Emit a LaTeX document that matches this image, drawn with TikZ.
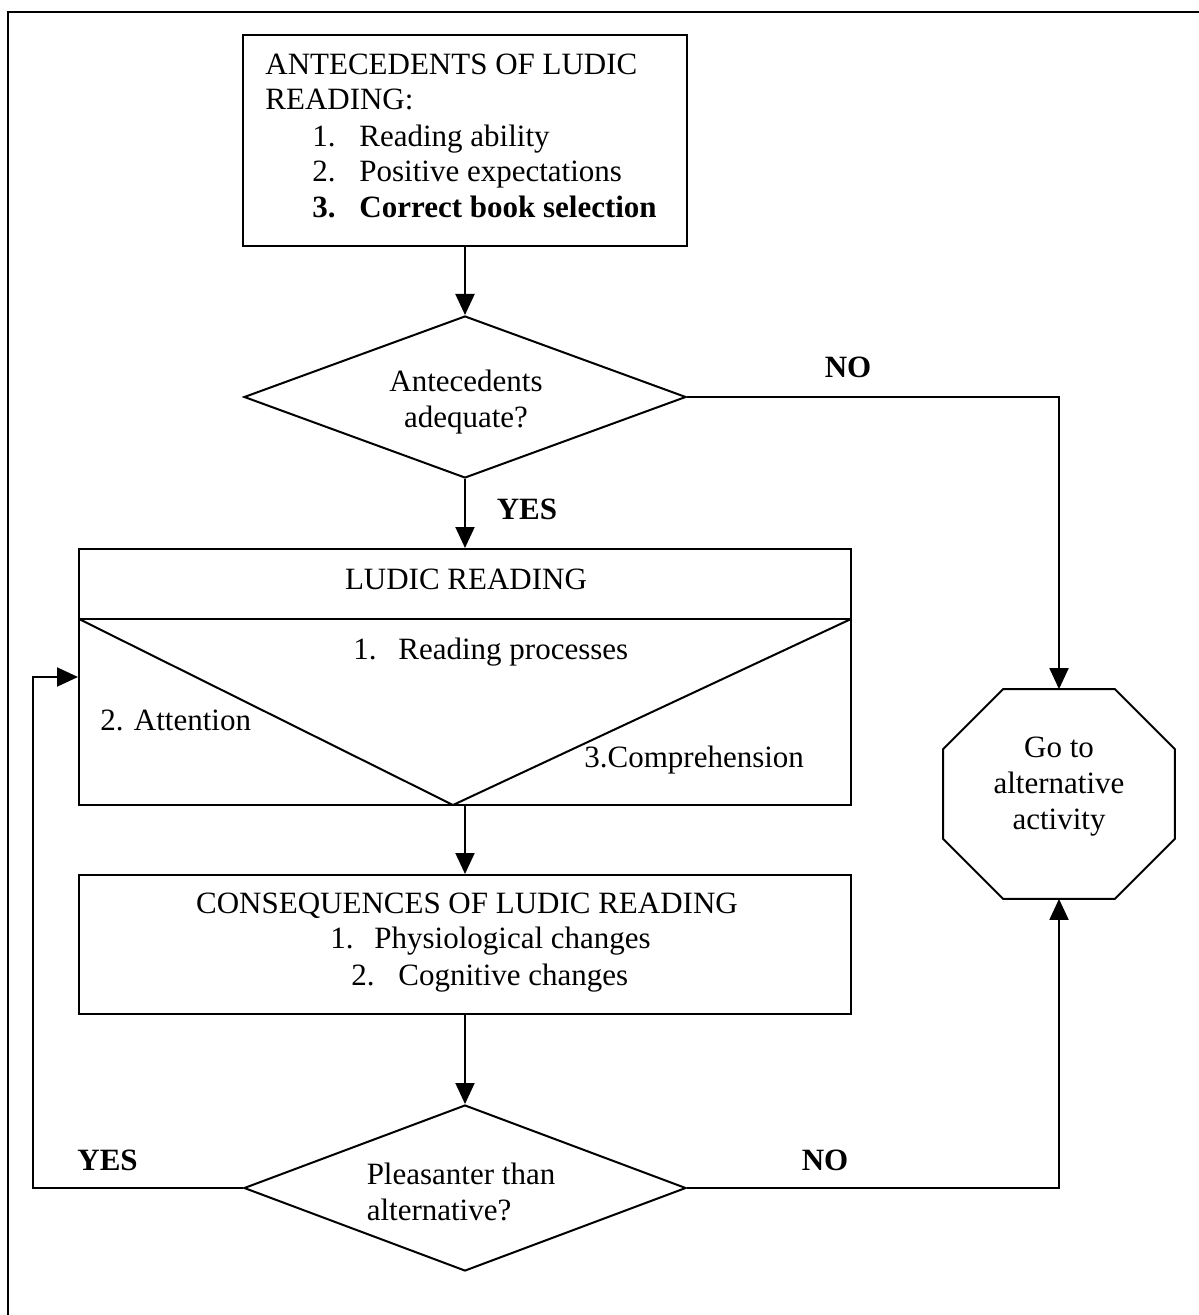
\documentclass[tikz,border=0pt]{standalone}
\usepackage{fontspec}
\setmainfont{Liberation Serif}
\usetikzlibrary{shapes.geometric, arrows.meta}

\begin{document}
\begin{tikzpicture}[x=0.5pt, y=-0.5pt,
  every node/.style={font=\fontsize{15.5}{18}\selectfont},
  box/.style={draw, line width=1pt, inner sep=0pt},
  decision/.style={draw, diamond, aspect=2.6, line width=1pt, inner sep=0pt},
  flow/.style={line width=1pt, -{Triangle[length=10.5pt, width=9.5pt]}},
  answer/.style={font=\fontsize{15.5}{18}\selectfont\bfseries, anchor=base, inner sep=0pt},
  txt/.style={anchor=base west, inner sep=0pt}]
  \useasboundingbox (0,0) rectangle (1198,1315);

  % Frame
  \draw[line width=1pt] (8,1340) -- (8,12) -- (1220,12);

  % Antecedents
  \node[box, minimum width=222pt, minimum height=105.5pt] (ante) at (465,140.5) {};
  \node[txt] (anteA) at (265,75) {ANTECEDENTS OF LUDIC};
  \node[txt] (anteB) at (265,110) {READING:};
  \node[txt] (anteC) at (312,147) {\makebox[23.5pt][l]{1.}Reading ability};
  \node[txt] (anteD) at (312,182) {\makebox[23.5pt][l]{2.}Positive expectations};
  \node[txt] (anteE) at (312,218) {\bfseries\makebox[23.5pt][l]{3.}Correct book selection};

  % First decision
  \node[decision, minimum width=221pt, minimum height=81pt] (dec1) at (465,397) {};
  \node[align=center, inner sep=0pt] (dec1Text) at (466,402) {Antecedents\\adequate?};
  \node[answer] (no1) at (848,378) {NO};
  \node[answer] (yes1) at (527,519) {YES};

  % Ludic reading
  \node[box, minimum width=386pt, minimum height=128pt] (ludic) at (465,677) {};
  \draw[line width=1pt] (79,619) -- (851,619);
  \draw[line width=1pt] (79,619) -- (453,805) -- (851,619);
  \node[anchor=base, inner sep=0pt] (ludicA) at (466,589) {LUDIC READING};
  \node[txt] (ludicB) at (353,659) {\makebox[22.5pt][l]{1.}Reading processes};
  \node[txt] (ludicC) at (100,730) {2. Attention};
  \node[txt] (ludicD) at (584,767) {3.Comprehension};

  % Consequences
  \node[box, minimum width=386pt, minimum height=69.5pt] (conseq) at (465,944.5) {};
  \node[anchor=base, inner sep=0pt] (conseqA) at (467,913) {CONSEQUENCES OF LUDIC READING};
  \node[txt] (conseqB) at (330,948) {\makebox[22pt][l]{1.}Physiological changes};
  \node[txt] (conseqC) at (351,985) {\makebox[23.5pt][l]{2.}Cognitive changes};

  % Second decision
  \node[decision, minimum width=221pt, minimum height=83pt] (dec2) at (465,1188) {};
  \node[align=left, inner sep=0pt] (dec2Text) at (461,1192) {Pleasanter than\\alternative?};
  \node[answer, anchor=base west] (yes2) at (77,1170) {YES};
  \node[answer] (no2) at (825,1170) {NO};

  % Alternative activity
  \node[minimum width=115.5pt, minimum height=104.5pt, inner sep=0pt] (alt) at (1059,794) {};
  \draw[line width=1pt]
    ([xshift=30pt]alt.north west) -- ([xshift=-30pt]alt.north east)
    -- ([yshift=-30pt]alt.north east) -- ([yshift=30pt]alt.south east)
    -- ([xshift=-30pt]alt.south east) -- ([xshift=30pt]alt.south west)
    -- ([yshift=30pt]alt.south west) -- ([yshift=-30pt]alt.north west) -- cycle;
  \node[align=center, inner sep=0pt] (altText) at (1059,787) {Go to\\alternative\\activity};

  % Connectors
  \coordinate (loop) at (33,1188);
  \draw[flow] (ante.south) -- (dec1.north);
  \draw[flow] (dec1.south) -- (ludic.north);
  \draw[flow] (ludic.south) -- (conseq.north);
  \draw[flow] (conseq.south) -- (dec2.north);
  \draw[flow] (dec1.east) -| (alt.north);
  \draw[flow] (dec2.east) -| (alt.south);
  \draw[flow] (dec2.west) -- (loop) |- (ludic.west);
\end{tikzpicture}
\end{document}
